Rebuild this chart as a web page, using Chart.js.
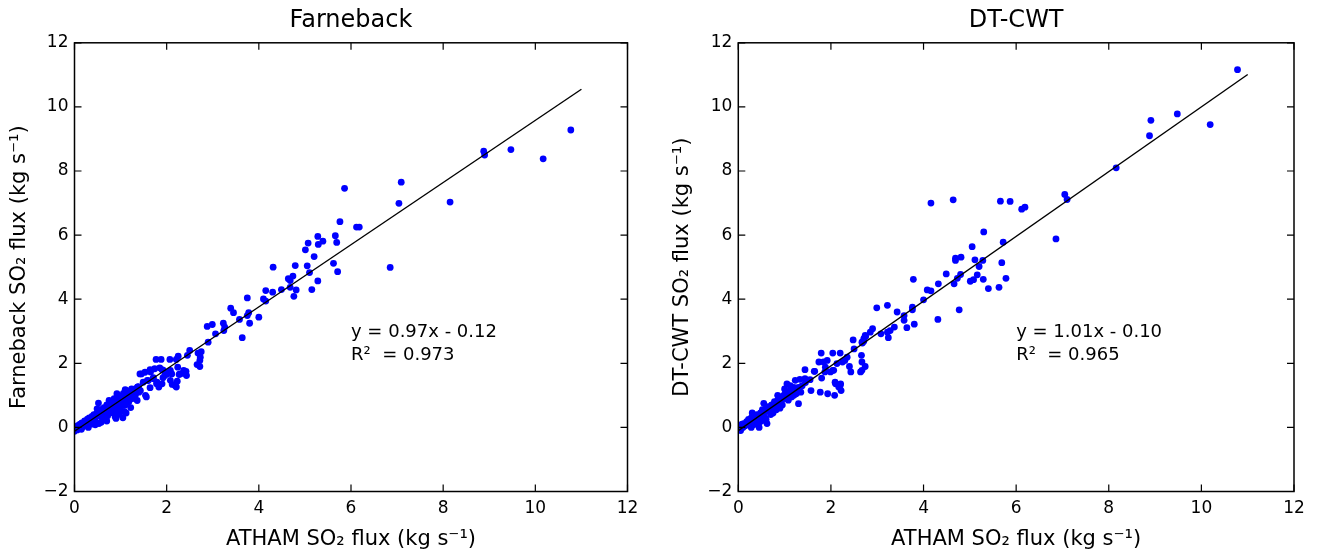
<!DOCTYPE html>
<html>
<head>
<meta charset="utf-8">
<script src="https://cdn.jsdelivr.net/npm/chart.js@4.4.0/dist/chart.umd.min.js"></script>
<style>
  html, body { margin: 0; padding: 0; background: #fff; }
  #wrap { position: relative; width: 1317px; height: 557px; }
  #c1 { position: absolute; left: 0; top: 0; }
  #c2 { position: absolute; left: 658px; top: 0; }
</style>
</head>
<body>
<div id="wrap">
  <canvas id="c1" width="658" height="557"></canvas>
  <canvas id="c2" width="659" height="557"></canvas>
</div>
<script>
// tick values shared by both panels
const xTicks = [0, 2, 4, 6, 8, 10, 12];
const yTicks = [-2, 0, 2, 4, 6, 8, 10, 12];

// regression lines [slope, intercept]
const fitFarneback = [0.97, -0.12];
const fitDtcwt = [1.01, -0.10];
const fitRange = [0, 11];

const noteFarneback = ['y = 0.97x - 0.12', 'R\u00B2  = 0.973'];
const noteDtcwt = ['y = 1.01x - 0.10', 'R\u00B2  = 0.965'];

// ATHAM flux vs Farneback flux  [x, y]
const farneback = [
  [0.00,-0.12],[0.02,-0.04],[0.04,0.03],[0.06,-0.08],[0.08,0.06],[0.10,0.00],[0.12,0.10],[0.14,0.04],
  [0.16,0.14],[0.18,0.02],[0.20,0.12],[0.22,0.20],[0.24,0.08],[0.26,0.18],[0.28,0.26],[0.30,0.14],
  [0.32,0.30],[0.34,0.20],[0.36,0.10],[0.38,0.34],[0.40,0.26],[0.42,0.40],[0.44,0.30],[0.46,0.18],
  [0.48,0.44],[0.50,0.36],[0.49,0.58],[0.52,0.76],[0.53,0.12],[0.54,0.48],[0.56,0.40],[0.58,0.56],
  [0.60,0.30],[0.62,0.50],[0.64,0.62],[0.66,0.44],[0.68,0.58],[0.70,0.70],[0.72,0.36],[0.74,0.52],
  [0.76,0.66],[0.78,0.80],[0.80,0.46],[0.82,0.62],[0.84,0.74],[0.86,0.90],[0.88,0.34],[0.90,0.56],
  [0.92,0.70],[0.94,0.84],[0.96,0.98],[0.98,0.44],[1.00,0.62],[1.02,0.78],[1.04,0.92],[1.06,1.06],
  [1.08,0.50],[1.10,0.70],[1.12,0.86],[1.14,1.00],[1.16,1.14],[1.18,0.80],[1.20,0.96],[1.22,1.10],
  [1.24,1.20],[1.26,0.90],[1.28,1.04],[1.30,1.16],[1.32,1.00],[1.34,1.22],[1.36,0.84],[1.38,1.26],
  [1.40,1.10],[1.27,1.00],[1.32,1.10],[1.43,1.15],[1.37,1.26],[0.75,0.84],[0.95,0.40],[1.05,0.30],
  [0.85,0.50],[0.65,0.30],[0.45,0.08],[0.30,0.00],[0.15,-0.06],[1.54,1.00],[1.56,0.95],
  [0.70,0.20],[0.90,0.28],[1.12,0.45],[1.22,0.62],[0.58,0.16],[1.00,0.95],[1.10,1.18],[0.92,1.05],
  [1.45,1.67],[1.65,1.73],[1.74,1.83],[1.85,1.86],[1.90,1.80],[2.08,1.78],[2.24,1.88],[2.29,1.67],
  [2.37,1.78],[2.43,1.62],[2.01,1.67],[1.58,1.47],[1.71,1.55],[1.79,1.41],[1.92,1.55],[1.90,1.36],
  [2.08,1.47],[2.12,1.34],[2.23,1.44],[2.21,1.26],[1.64,1.24],[1.83,1.26],[1.77,2.12],[1.88,2.12],
  [2.07,2.12],[2.21,2.12],[2.50,2.40],[2.45,2.25],[2.68,2.32],[2.73,2.19],[2.72,2.09],[2.66,1.96],
  [2.72,1.90],[2.75,2.36],[2.90,2.66],[2.88,3.15],[2.99,3.21],[3.06,2.92],[3.23,3.25],[3.26,3.13],
  [3.24,3.02],[3.39,3.72],[3.45,3.58],[3.58,3.37],[3.64,2.80],[3.75,4.04],[3.78,3.58],[3.75,3.49],
  [3.80,3.25],[4.00,3.44],[4.10,4.01],[4.15,4.27],[4.30,4.22],[4.15,3.94],
  [1.42,1.67],[1.53,1.72],[1.64,1.80],[1.93,1.78],[2.04,1.72],[2.11,1.67],[1.96,1.62],[1.71,1.52],
  [1.60,1.46],[1.49,1.41],[2.18,1.31],[1.78,1.36],[1.39,1.26],[2.27,1.65],[2.36,1.69],[2.42,1.75],
  [2.25,2.22],
  [7.09,7.65],[5.86,7.46],[7.04,6.99],[5.76,6.42],[6.12,6.25],[6.18,6.25],[5.28,5.96],[5.39,5.81],
  [5.29,5.71],[5.07,5.75],[5.01,5.54],[5.66,5.98],[5.69,5.77],[5.20,5.33],[4.31,5.00],[4.79,5.05],
  [5.05,5.04],[5.10,4.83],[5.62,5.12],[5.71,4.86],[6.85,4.99],[4.74,4.72],[4.64,4.64],[4.68,4.58],
  [5.28,4.57],[4.68,4.37],[4.81,4.29],[5.15,4.30],[4.76,4.09],[4.49,4.30],
  [10.77,9.28],[9.47,8.67],[10.17,8.38],[8.88,8.62],[8.90,8.50],[8.15,7.03]
];

// ATHAM flux vs DT-CWT flux  [x, y]
const dtcwt = [
  [0.00,0.00],[0.02,-0.05],[0.05,0.05],[0.05,-0.10],[0.08,0.10],[0.10,0.00],[0.12,0.12],[0.15,0.05],
  [0.18,0.18],[0.20,0.10],[0.22,0.25],[0.25,0.15],[0.28,0.30],[0.30,0.20],[0.32,0.08],[0.35,0.35],
  [0.38,0.25],[0.40,0.40],[0.42,0.30],[0.45,0.15],[0.48,0.45],[0.50,0.35],[0.52,0.55],[0.55,0.45],
  [0.58,0.30],[0.60,0.60],[0.62,0.50],[0.65,0.65],[0.68,0.55],[0.70,0.40],[0.72,0.70],[0.75,0.60],
  [0.78,0.80],[0.80,0.70],[0.82,0.55],[0.85,0.85],[0.88,0.75],[0.90,0.95],[0.92,0.85],[0.95,0.70],
  [0.98,1.00],[1.00,0.90],[1.02,1.10],[1.05,0.95],[1.08,0.85],[1.10,1.05],[1.12,1.15],[1.15,0.95],
  [1.18,1.10],[1.20,1.00],[1.22,1.20],[1.25,1.05],[1.28,1.15],[1.30,1.25],[1.35,1.10],[1.38,1.30],
  [0.60,0.25],[0.50,0.20],[0.75,0.45],[0.40,0.10],[0.28,0.00],[0.90,0.60],[1.00,1.20],[0.85,1.00],
  [1.12,1.30],[1.20,1.25],[1.33,1.50],[1.45,1.40],[0.45,0.00],[0.62,0.12],[0.30,0.45],[0.55,0.75],
  [2.99,3.73],[2.90,3.08],[2.85,2.97],[2.74,2.87],[2.71,2.77],[2.67,2.66],[2.48,2.73],[2.50,2.45],
  [2.66,2.25],[2.67,2.04],[2.74,1.90],[2.64,1.73],[2.67,1.78],[2.43,1.73],[2.40,1.90],[2.30,2.09],
  [2.25,2.04],[2.35,2.19],[2.20,2.32],[2.04,2.32],[1.79,2.32],[1.74,2.04],[1.84,2.04],[1.92,2.09],
  [1.88,1.88],[1.87,1.73],[1.99,1.73],[2.04,1.78],[2.13,1.99],[1.44,1.80],[1.65,1.75],[1.80,1.54],
  [2.09,1.41],[2.20,1.31],[2.17,1.26],[1.93,1.05],[2.08,1.00],[2.22,1.15],[1.77,1.10],[1.57,1.15],
  [1.44,1.52],[1.55,1.49],[1.30,0.74],[1.23,1.47],[1.05,1.36],[2.75,2.84],[2.71,2.69],[2.68,2.63],
  [1.64,1.75],[2.06,1.78],[2.10,1.36],[2.21,1.36],
  [4.16,7.00],[4.64,7.10],[5.66,7.06],[5.87,7.05],[6.12,6.81],[6.19,6.87],[5.30,6.10],[6.86,5.88],
  [5.72,5.78],[5.05,5.64],[4.69,5.28],[4.69,5.21],[4.81,5.31],[5.11,5.23],[5.28,5.21],[5.20,5.02],
  [5.69,5.14],[4.49,4.79],[4.80,4.77],[4.73,4.65],[5.16,4.76],[4.66,4.48],[3.78,4.62],[4.32,4.48],
  [5.01,4.56],[5.08,4.61],[5.29,4.62],[5.78,4.65],[5.40,4.33],[5.63,4.37],[4.08,4.29],[4.16,4.26],
  [4.00,3.98],[3.22,3.81],[3.43,3.60],[3.76,3.75],[3.76,3.67],[3.58,3.49],[3.58,3.34],[4.77,3.67],
  [4.31,3.37],[3.80,3.22],[3.64,3.11],[3.37,3.13],[3.28,3.02],[3.22,2.97],[3.08,2.92],[3.24,2.80],
  [10.78,11.16],[9.48,9.78],[8.91,9.58],[8.88,9.10],[10.19,9.45],[8.16,8.10],[7.05,7.27],[7.10,7.11]
];

const FONT = '"DejaVu Sans", sans-serif';

// box with inward ticks on all sides (matplotlib look) + equation text
const framePlugin = {
  id: 'frame',
  afterDraw(chart, args, opts) {
    const { ctx, chartArea: a, scales: { x, y } } = chart;
    ctx.save();
    ctx.strokeStyle = '#000';
    ctx.lineWidth = 1.5;
    ctx.strokeRect(a.left, a.top, a.right - a.left, a.bottom - a.top);
    ctx.lineWidth = 1.2;
    ctx.beginPath();
    xTicks.forEach(v => {
      const px = x.getPixelForValue(v);
      ctx.moveTo(px, a.bottom); ctx.lineTo(px, a.bottom - 7);
      ctx.moveTo(px, a.top); ctx.lineTo(px, a.top + 7);
    });
    yTicks.forEach(v => {
      const py = y.getPixelForValue(v);
      ctx.moveTo(a.left, py); ctx.lineTo(a.left + 7, py);
      ctx.moveTo(a.right, py); ctx.lineTo(a.right - 7, py);
    });
    ctx.stroke();

    ctx.fillStyle = '#000';
    ctx.font = '18px ' + FONT;
    ctx.textBaseline = 'middle';
    const tx = x.getPixelForValue(6.0);
    const ty = y.getPixelForValue(2.96);
    ctx.fillText(opts.lines[0], tx, ty);
    ctx.fillText(opts.lines[1], tx, ty + 23);
    ctx.restore();
  }
};

function makePanel(id, title, yLabel, pts, fit, note, yWidth, yTitlePad, rightPad) {
  const line = fitRange.map(v => ({ x: v, y: fit[0] * v + fit[1] }));
  return new Chart(document.getElementById(id), {
    type: 'scatter',
    data: {
      datasets: [
        {
          data: line,
          showLine: true,
          borderColor: '#000',
          borderWidth: 1.4,
          pointRadius: 0,
          fill: false
        },
        {
          data: pts.map(p => ({ x: p[0], y: p[1] })),
          backgroundColor: '#0000ff',
          borderWidth: 0,
          pointRadius: 3.4
        }
      ]
    },
    options: {
      responsive: false,
      animation: false,
      layout: { padding: { left: 0, right: rightPad, top: 0, bottom: 0 } },
      plugins: {
        legend: { display: false },
        tooltip: { enabled: false },
        title: {
          display: true,
          text: title,
          fullSize: false,
          color: '#000',
          font: { family: FONT, size: 24, weight: 'normal' },
          padding: { top: 6, bottom: 8 }
        },
        frame: { lines: note }
      },
      scales: {
        x: {
          type: 'linear',
          min: 0, max: 12,
          grid: { display: false, drawTicks: false },
          border: { display: false },
          afterFit: s => { s.height = 65.5; },
          afterBuildTicks: s => { s.ticks = xTicks.map(v => ({ value: v })); },
          ticks: { color: '#000', font: { family: FONT, size: 17 }, padding: 7 },
          title: {
            display: true,
            text: 'ATHAM SO\u2082 flux (kg s\u207B\u00B9)',
            color: '#000',
            font: { family: FONT, size: 21 },
            padding: { top: 0, bottom: 5 }
          }
        },
        y: {
          type: 'linear',
          min: -2, max: 12,
          grid: { display: false, drawTicks: false },
          border: { display: false },
          afterFit: s => { s.width = yWidth; },
          afterBuildTicks: s => { s.ticks = yTicks.map(v => ({ value: v })); },
          ticks: {
            color: '#000',
            font: { family: FONT, size: 17 },
            padding: 6,
            callback: v => (v < 0 ? '\u2212' + Math.abs(v) : String(v))
          },
          title: {
            display: true,
            text: yLabel,
            color: '#000',
            font: { family: FONT, size: 21 },
            padding: { top: yTitlePad, bottom: 0 }
          }
        }
      }
    },
    plugins: [framePlugin]
  });
}

makePanel('c1', 'Farneback', 'Farneback SO\u2082 flux (kg s\u207B\u00B9)', farneback, fitFarneback, noteFarneback, 74.5, 7, 30.5);
makePanel('c2', 'DT-CWT', 'DT-CWT SO\u2082 flux (kg s\u207B\u00B9)', dtcwt, fitDtcwt, noteDtcwt, 80.3, 12, 23);
</script>
</body>
</html>
